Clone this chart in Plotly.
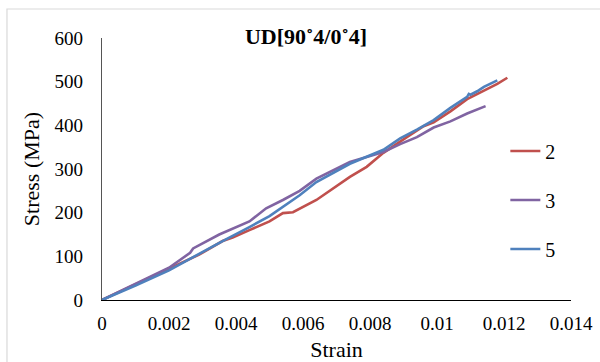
import plotly.graph_objects as go

# Specimen 2
strain_2 = [0, 0.0010, 0.0020, 0.0029, 0.0036, 0.0039, 0.0044, 0.0050, 0.0054, 0.0057,
            0.0064, 0.0074, 0.0079, 0.0084, 0.0091, 0.0096, 0.0099, 0.0104, 0.0109,
            0.0114, 0.0118, 0.0121]
stress_2 = [0, 36, 73, 104, 135, 143, 160, 180, 199, 201,
            229, 282, 305, 337, 373, 398, 407, 432, 460,
            479, 495, 509]

# Specimen 3
strain_3 = [0, 0.0010, 0.0020, 0.00263, 0.00272, 0.0035, 0.0044, 0.0049, 0.0054, 0.0059,
            0.0064, 0.0074, 0.0084, 0.0089, 0.0094, 0.0099, 0.0104, 0.0109, 0.01145]
stress_3 = [0, 37, 74, 108, 118, 150, 180, 210, 229, 250,
            278, 316, 339, 357, 373, 395, 409, 427, 444]

# Specimen 5
strain_5 = [0, 0.0010, 0.0020, 0.0029, 0.0036, 0.0044, 0.0050, 0.0059, 0.0064, 0.0074,
            0.0084, 0.0089, 0.0094, 0.0099, 0.0104, 0.0109, 0.01095, 0.0110, 0.0112,
            0.0114, 0.0118]
stress_5 = [0, 33, 68, 106, 135, 167, 192, 240, 270, 312,
            344, 370, 390, 412, 440, 465, 472, 470, 478,
            488, 503]

series_names = ["2", "3", "5"]
series_colors = ["#C0504D", "#8064A2", "#4F81BD"]

x_tickvals = [0, 0.002, 0.004, 0.006, 0.008, 0.01, 0.012, 0.014]
x_ticktext = ["0", "0.002", "0.004", "0.006", "0.008", "0.01", "0.012", "0.014"]
y_tickvals = [0, 100, 200, 300, 400, 500, 600]

FONT = "Liberation Serif, Times New Roman, serif"

fig = go.Figure()
for name, xs, ys, col in zip(series_names, [strain_2, strain_3, strain_5],
                             [stress_2, stress_3, stress_5], series_colors):
    fig.add_trace(go.Scatter(x=xs, y=ys, mode="lines", name=name, legendgroup=name,
                             line=dict(color=col, width=2.6)))

fig.update_layout(
    width=600, height=362,
    margin=dict(l=102, r=29, t=38, b=62, autoexpand=False),
    paper_bgcolor="white", plot_bgcolor="white",
    font=dict(family=FONT, size=19, color="black"),
    title=dict(text="<b>UD[90˚4/0˚4]</b>", x=0.51, xanchor="center",
               y=0.90, yanchor="middle", yref="container",
               font=dict(family=FONT, size=22, color="black")),
    showlegend=True,
    legend=dict(x=0.86, xanchor="left", y=0.643, yanchor="top",
                tracegroupgap=20, bgcolor="rgba(0,0,0,0)",
                font=dict(family=FONT, size=20, color="black")),
    xaxis=dict(range=[0, 0.014], tickvals=x_tickvals, ticktext=x_ticktext,
               automargin=False, tickfont=dict(family=FONT, size=19, color="black"),
               showgrid=False, zeroline=False, showline=True, linecolor="black",
               linewidth=1.3, ticks="", ticklabelstandoff=6,
               title=dict(text="Strain", font=dict(family=FONT, size=22))),
    yaxis=dict(range=[0, 600], tickvals=y_tickvals,
               automargin=False, tickfont=dict(family=FONT, size=19, color="black"),
               showgrid=False, zeroline=False, showline=True, linecolor="#555555",
               linewidth=1.3, ticks="", ticklabelstandoff=14,
               title=dict(text="Stress (MPa)", standoff=8,
                          font=dict(family=FONT, size=22))),
    shapes=[dict(type="rect", xref="paper", yref="paper",
                 x0=-0.2026, x1=1.3, y0=-0.5, y1=1.1107,
                 line=dict(color="#D9D9D9", width=1.2), layer="below")],
)

fig.write_html("out.html")
